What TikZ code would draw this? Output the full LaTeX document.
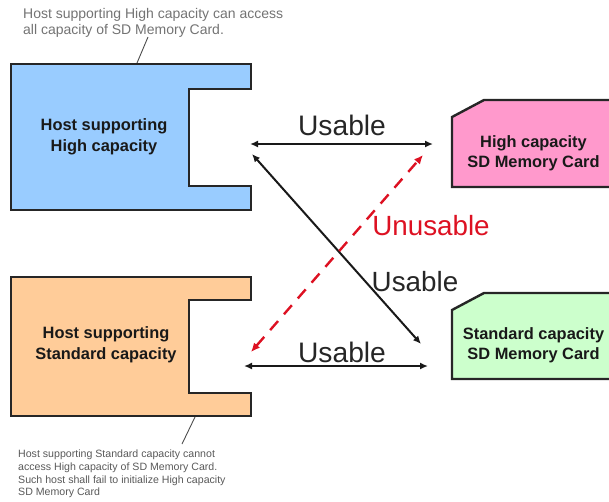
\documentclass[tikz,border=0pt]{standalone}
\usepackage{fontspec}
\setmainfont{Liberation Sans}
\usetikzlibrary{arrows.meta}
\definecolor{hostblue}{HTML}{99CCFF}
\definecolor{hostorange}{HTML}{FFCC99}
\definecolor{cardpink}{HTML}{FF99CC}
\definecolor{cardgreen}{HTML}{CCFFCC}
\definecolor{redline}{HTML}{DD1122}
\tikzset{
  x=1pt,y=-1pt,
  shapeline/.style={draw=black!85,line width=2.4pt,line join=miter},
  boldlabel/.style={font=\fontsize{16.4}{20.8}\selectfont\bfseries,align=center,text=black!90,inner sep=0pt},
  cardlabel/.style={font=\fontsize{16.4}{19.7}\selectfont\bfseries,align=center,text=black!90,inner sep=0pt},
  biglabel/.style={font=\fontsize{28.2}{30}\selectfont,inner sep=0pt,text=black!85},
  midlabel/.style={font=\fontsize{27.8}{30}\selectfont,inner sep=0pt,text=black!85},
  note/.style={font=\fontsize{14}{16}\selectfont,align=left,anchor=west,inner sep=0pt,text=black!55},
  smallnote/.style={font=\fontsize{10.6}{12.7}\selectfont,align=left,anchor=north west,inner sep=0pt,text=black!65},
  usableline/.style={draw=black!90,line width=1.6pt,{Latex[length=8pt,width=7pt]}-{Latex[length=8pt,width=7pt]}},
  unusableline/.style={draw=redline,line width=2.4pt,dash pattern=on 12pt off 9pt,{Latex[length=9pt,width=8pt]}-{Latex[length=9pt,width=8pt]}},
  leader/.style={draw=black!70,line width=0.9pt},
}
\begin{document}
\begin{tikzpicture}
\useasboundingbox (0,0) rectangle (609,501);
% hosts
\path[shapeline,fill=hostblue] (11,64) -- (251,64) -- (251,89) -- (189,89) -- (189,186) -- (251,186) -- (251,210) -- (11,210) -- cycle;
\path[shapeline,fill=hostorange] (11,277) -- (251,277) -- (251,300) -- (189,300) -- (189,393) -- (251,393) -- (251,416) -- (11,416) -- cycle;
% cards
\path[shapeline,fill=cardpink] (615,100) -- (484,100) -- (452,117) -- (452,187) -- (615,187);
\path[shapeline,fill=cardgreen] (615,293) -- (484,293) -- (452,310) -- (452,379) -- (615,379);
% labels
\node[boldlabel] (hosthigh) at (104,137) {Host supporting\\High capacity};
\node[boldlabel] (hoststd) at (106,345) {Host supporting\\Standard capacity};
\node[cardlabel] (cardhigh) at (533.5,153) {High capacity\\SD Memory Card};
\node[cardlabel] (cardstd) at (533.5,345) {Standard capacity\\SD Memory Card};
\node[biglabel] (u1) at (342,125.5) {Usable};
\node[biglabel] (u2) at (342,352) {Usable};
\node[midlabel] (u3) at (415,282) {Usable};
\node[midlabel,text=redline] (un) at (431,226) {Unusable};
\node[note] (topnote) at (23,22.5) {Host supporting High capacity can access\\all capacity of SD Memory Card.};
\node[smallnote] (botnote) at (18,450) {Host supporting Standard capacity cannot\\access High capacity of SD Memory Card.\\Such host shall fail to initialize High capacity\\SD Memory Card};
% endpoints
\coordinate (hh) at (250,144);
\coordinate (hc) at (433,144);
\coordinate (sh) at (244,366);
\coordinate (sc) at (428,366);
\coordinate (dh) at (252,154);
\coordinate (dc) at (421,344);
\coordinate (rh) at (251,352);
\coordinate (rc) at (423,155);
\coordinate (l1a) at (137,63);
\coordinate (l1b) at (148,37);
\coordinate (l2a) at (195,417);
\coordinate (l2b) at (182,444);
% connectors
\draw[usableline] (hh) -- (hc);
\draw[usableline,line width=2pt] (sh) -- (sc);
\draw[usableline,line width=2pt] (dh) -- (dc);
\draw[unusableline] (rh) -- (rc);
\draw[leader] (l1a) -- (l1b);
\draw[leader] (l2a) -- (l2b);
\end{tikzpicture}
\end{document}
